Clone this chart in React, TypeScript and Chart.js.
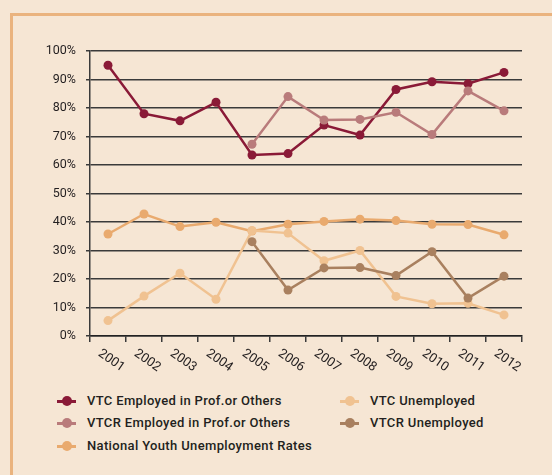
import React, { useEffect, useRef } from "react";
import { Chart, registerables } from "chart.js";

Chart.register(...registerables);

const years = ["2001", "2002", "2003", "2004", "2005", "2006", "2007", "2008", "2009", "2010", "2011", "2012"];
const vtcEmployed = [95, 78, 75.5, 82, 63.5, 64, 74, 70.5, 86.5, 89.2, 88.5, 92.5];
const vtcrEmployed = [null, null, null, null, 67.3, 84, 75.8, 76, 78.5, 70.7, 86, 79];
const nationalYouth = [35.8, 42.8, 38.4, 39.9, 36.8, 39.2, 40.2, 41, 40.5, 39.2, 39.1, 35.5];
const vtcUnemployed = [5.4, 14, 22, 12.9, 37, 36.1, 26.4, 30, 13.9, 11.3, 11.5, 7.4];
const vtcrUnemployed = [null, null, null, null, 33.1, 16.1, 23.9, 24, 21.2, 29.6, 13.3, 21];
const yTicks = [0, 10, 20, 30, 40, 50, 60, 70, 80, 90, 100];

const seriesNames = [
  "VTC Employed in Prof.or Others",
  "VTCR Employed in Prof.or Others",
  "National Youth Unemployment Rates",
  "VTC Unemployed",
  "VTCR Unemployed",
];
const seriesColors = ["#8a1a37", "#b97b7b", "#e9aa6e", "#f0c291", "#a9805f"];
const seriesData = [vtcEmployed, vtcrEmployed, nationalYouth, vtcUnemployed, vtcrUnemployed];

const FONT = "Roboto, 'DejaVu Sans', sans-serif";
const BG = "#f6e6d4";

const xLabelPlugin = {
  id: "xLabels",
  afterDraw(chart: any) {
    const ctx = chart.ctx;
    const xs = chart.scales.x;
    const bottom = chart.chartArea.bottom;
    ctx.save();
    ctx.fillStyle = "#231f20";
    ctx.font = `400 13px ${FONT}`;
    ctx.textAlign = "left";
    ctx.textBaseline = "top";
    years.forEach((y, i) => {
      const x = xs.getPixelForValue(i);
      ctx.save();
      ctx.translate(x - 5, bottom + 11);
      ctx.rotate((35 * Math.PI) / 180);
      ctx.fillText(y, 0, 0);
      ctx.restore();
    });
    ctx.restore();
  },
};

function ChartCanvas() {
  const ref = useRef<HTMLCanvasElement | null>(null);
  useEffect(() => {
    if (!ref.current) return;
    const chart = new Chart(ref.current, {
      type: "line",
      data: {
        labels: years,
        datasets: seriesData.map((d, i) => ({
          label: seriesNames[i],
          data: d as any,
          borderColor: seriesColors[i],
          backgroundColor: seriesColors[i],
          pointBackgroundColor: seriesColors[i],
          pointBorderColor: seriesColors[i],
          borderWidth: 2.5,
          pointRadius: 4.5,
          pointBorderWidth: 0,
          tension: 0,
          spanGaps: false,
          fill: false,
        })).reverse(),
      },
      options: {
        responsive: false,
        animation: false,
        events: [],
        layout: { padding: { left: 30, top: 51, right: 30, bottom: 39 } },
        plugins: { legend: { display: false }, tooltip: { enabled: false } },
        scales: {
          x: {
            type: "category",
            offset: true,
            afterFit: (s: any) => { s.height = 10; },
            grid: {
              offset: true,
              drawOnChartArea: false,
              drawTicks: true,
              tickLength: 6,
              color: "#3a3a3a",
              lineWidth: 1.5,
            },
            border: { display: true, color: "#222", width: 1.5 },
            ticks: { display: false },
          },
          y: {
            min: 0,
            max: 100,
            afterFit: (s: any) => { s.width = 60; },
            afterBuildTicks: (s: any) => { s.ticks = yTicks.map((v) => ({ value: v })); },
            grid: {
              color: "#3a3a3a",
              lineWidth: 1.5,
              drawTicks: true,
              tickLength: 4,
            },
            border: { display: true, color: "#3a3a3a", width: 1.5 },
            ticks: {
              padding: 10,
              color: "#231f20",
              font: { family: FONT, size: 12.5 },
              callback: (v: any) => `${v}%`,
            },
          },
        },
      },
      plugins: [xLabelPlugin],
    });
    return () => chart.destroy();
  }, []);
  return (
    <canvas
      ref={ref}
      width={552}
      height={385}
      style={{ position: "absolute", left: 0, top: 0, width: 552, height: 385 }}
    />
  );
}

const legendItems = [
  { idx: 0, x: 57, y: 401 },
  { idx: 1, x: 57, y: 423 },
  { idx: 2, x: 57, y: 446 },
  { idx: 3, x: 340, y: 401 },
  { idx: 4, x: 340, y: 423 },
];

export default function App() {
  return (
    <div style={{ position: "fixed", left: 0, top: 0, width: 552, height: 475, background: BG, overflow: "hidden" }}>
      <div
        style={{
          position: "absolute",
          left: 10,
          top: 13,
          right: -10,
          bottom: -10,
          borderLeft: "3px solid #eab37e",
          borderTop: "3px solid #eab37e",
        }}
      />
      <ChartCanvas />
      {legendItems.map((it) => (
        <div key={it.idx} style={{ position: "absolute", left: it.x, top: it.y - 10, height: 20, width: 260 }}>
          <div style={{ position: "absolute", left: 0, top: 9, width: 19, height: 3, background: seriesColors[it.idx] }} />
          <div
            style={{
              position: "absolute",
              left: 4.5,
              top: 5,
              width: 10,
              height: 10,
              borderRadius: "50%",
              background: seriesColors[it.idx],
            }}
          />
          <div
            style={{
              position: "absolute",
              left: 30,
              top: 0,
              height: 20,
              lineHeight: "20px",
              whiteSpace: "nowrap",
              fontFamily: FONT,
              fontWeight: 500,
              fontSize: 13,
              letterSpacing: "0.35px",
              color: "#231f20",
            }}
          >
            {seriesNames[it.idx]}
          </div>
        </div>
      ))}
    </div>
  );
}
